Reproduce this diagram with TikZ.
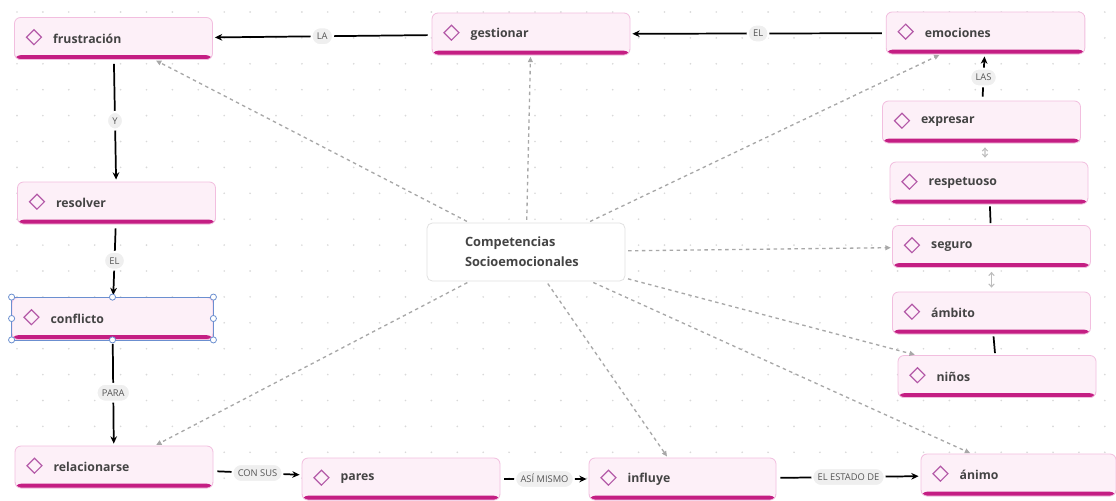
\documentclass[tikz,border=0pt]{standalone}
\usepackage{fontspec}
\usetikzlibrary{arrows.meta}
\setmainfont{Open Sans}
\newcommand\semib{\bfseries}
\definecolor{nodefill}{HTML}{FDF0F8}
\definecolor{nodeborder}{HTML}{F2BEDF}
\definecolor{barcol}{HTML}{C41E83}
\definecolor{diacol}{HTML}{B45AA8}
\definecolor{txtcol}{HTML}{444444}
\definecolor{pillfill}{HTML}{EFEFEF}
\definecolor{pilltxt}{HTML}{555555}
\definecolor{dashcol}{HTML}{A8A8A8}
\definecolor{dotcol}{HTML}{D9D9D9}
\definecolor{selcol}{HTML}{6B8FD0}
\definecolor{centralborder}{HTML}{E2E2E2}
\definecolor{dblcol}{HTML}{BDBDBD}
\begin{document}
\begin{tikzpicture}[x=0.75pt,y=-0.75pt,
  concept/.style={rectangle, rounded corners=4.5pt, fill=nodefill, draw=nodeborder,
    line width=0.6pt, inner xsep=0pt, inner ysep=0pt, text width=#1,
    minimum height=31.5pt, align=left, font=\fontsize{9.2}{11}\semib, text=txtcol,
    path picture={
      \fill[barcol] ([yshift=3.2pt]path picture bounding box.south west) rectangle (path picture bounding box.south east);
      \draw[diacol, line width=0.9pt, sharp corners, line join=miter]
        ([xshift=14.6pt,yshift=1pt]path picture bounding box.west)
        +(0pt,5.6pt) -- +(5.6pt,0pt) -- +(0pt,-5.6pt) -- +(-5.6pt,0pt) -- cycle;
    }},
  concept/.default=148.5pt,
  central/.style={rectangle, rounded corners=4pt, fill=white, draw=centralborder,
    line width=0.6pt, inner xsep=0pt, inner ysep=0pt, text width=148.5pt,
    minimum height=43.5pt, align=left, font=\fontsize{9.6}{15}\semib, text=txtcol},
  pill/.style={rectangle, rounded corners=6.5pt, fill=pillfill, draw=white, line width=1.5pt,
    inner xsep=4pt, inner ysep=4.2pt, text height=5pt, text depth=0pt,
    font=\fontsize{7}{7}\selectfont, text=pilltxt},
  arr/.style={draw=black, line width=1.3pt, -{Stealth[length=5.5pt,width=5pt]},
    shorten <=3pt, shorten >=1.5pt},
  plainlink/.style={draw=black, line width=1.3pt, shorten <=1.5pt, shorten >=1.5pt},
  dbl/.style={draw=dblcol, line width=0.8pt, {Straight Barb[length=2.2pt,width=4pt]}-{Straight Barb[length=2.2pt,width=4pt]},
    shorten <=3pt, shorten >=3pt},
  dasharr/.style={draw=dashcol, line width=1pt, dash pattern=on 2.6pt off 2.6pt,
    -{Triangle[length=4pt,width=3.6pt]}, shorten <=2pt, shorten >=1pt}
]
\useasboundingbox (0,0) rectangle (1116,500);
\fill[white] (0,0) rectangle (1116,500);
\foreach \i in {0,...,42} \foreach \j in {0,...,18}
  \fill[dotcol] (17+25.9*\i,12+25.9*\j) circle (0.7pt);

% concept nodes
\node[concept] (frustracion) at (113.5,38.5) {\hspace*{29pt}frustración};
\node[concept] (gestionar) at (531,34) {\hspace*{29pt}gestionar};
\node[concept=149pt] (emociones) at (985.5,33) {\hspace*{29pt}emociones};
\node[concept] (expresar) at (981.5,122) {\hspace*{29pt}expresar};
\node[concept] (respetuoso) at (989,183) {\hspace*{29pt}respetuoso};
\node[concept] (seguro) at (991.5,246.5) {\hspace*{29pt}seguro};
\node[concept] (ambito) at (991.5,313) {\hspace*{29pt}ámbito};
\node[concept] (ninos) at (997,376.5) {\hspace*{29pt}niños};
\node[concept] (resolver) at (116.5,203) {\hspace*{29pt}resolver};
\node[concept=150.75pt] (conflicto) at (112.5,318.5) {\hspace*{29pt}conflicto};
\node[concept] (relacionarse) at (114,467) {\hspace*{29pt}relacionarse};
\node[concept] (pares) at (401,479) {\hspace*{29pt}pares};
\node[concept=140.25pt] (influye) at (682.5,479) {\hspace*{29pt}influye};
\node[concept=146.25pt] (animo) at (1018.5,475) {\hspace*{29pt}ánimo};

\node[central] (central) at (526,252) {\hspace*{28.5pt}Competencias\\\hspace*{28.5pt}Socioemocionales};

% dashed links from the central node
\foreach \t in {frustracion,gestionar,emociones,seguro,ninos,animo,influye,relacionarse}
  \draw[dasharr] (central) -- (\t);

% labelled links
\draw[arr] (gestionar) -- node[pill]{LA} (frustracion);
\draw[arr] (emociones) -- node[pill]{EL} (gestionar);
\draw[arr] (expresar) -- node[pill]{LAS} (emociones);
\draw[arr] (frustracion) -- node[pill]{Y} (resolver);
\draw[arr] (resolver) -- node[pill]{EL} (conflicto);
\draw[arr] (conflicto) -- node[pill]{PARA} (relacionarse);
\draw[arr] (relacionarse) -- node[pill]{CON SUS} (pares);
\draw[arr] (pares) -- node[pill]{ASÍ MISMO} (influye);
\draw[arr] (influye) -- node[pill]{EL ESTADO DE} (animo);

% right column links
\draw[dbl] ([xshift=2.6pt]expresar.south) -- ([xshift=-3pt]respetuoso.north);
\draw[plainlink] (respetuoso) -- (seguro);
\draw[dbl] (seguro) -- (ambito);
\draw[plainlink] (ambito) -- (ninos);

% selection handles on conflicto
\draw[selcol, line width=0.6pt] (conflicto.north west) rectangle (conflicto.south east);
\foreach \a in {north west,north,north east,west,east,south west,south,south east}
  \draw[selcol, fill=white, line width=0.6pt] (conflicto.\a) circle (2.3pt);
\end{tikzpicture}
\end{document}
